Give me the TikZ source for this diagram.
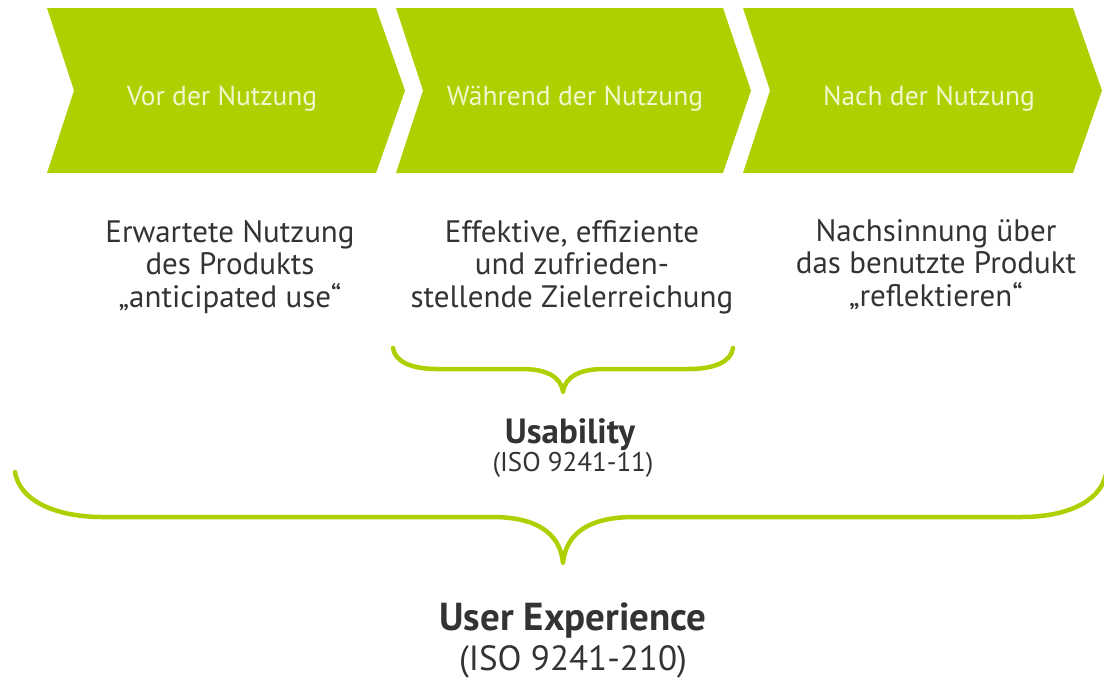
\documentclass[tikz,border=0pt]{standalone}
\usepackage{fontspec}
\setmainfont{PT Sans}
\begin{document}
\begin{tikzpicture}[x=1pt,y=-1pt,
  phase/.style={fill=limegreen,draw=none},
  phaselabel/.style={text=chevtext,font=\fontsize{27.5}{32}\selectfont,anchor=base,inner sep=0pt},
  desc/.style={text=darktext,font=\fontsize{31}{32.5}\selectfont,align=center,anchor=north,inner sep=0pt},
  brace/.style={draw=limegreen,line width=4.5pt,line cap=round,line join=round},
  title/.style={text=darktext,font=\bfseries\fontsize{35}{40}\selectfont,anchor=base,inner sep=0pt},
  norm/.style={text=darktext,font=\fontsize{27}{30}\selectfont,anchor=base,inner sep=0pt}]
\definecolor{limegreen}{HTML}{AFCF00}
\definecolor{chevtext}{HTML}{F2F7CF}
\definecolor{darktext}{HTML}{333333}
\useasboundingbox (0,0) rectangle (1104,678);

% phase chevrons
\path[phase] (47,8) -- (376,8) -- (405,90.5) -- (376,173) -- (47,173) -- (74,90.5) -- cycle;
\path[phase] (396,8) -- (723,8) -- (751,90.5) -- (723,173) -- (396,173) -- (423,90.5) -- cycle;
\path[phase] (743,8) -- (1073,8) -- (1102,90.5) -- (1073,173) -- (743,173) -- (770,90.5) -- cycle;

\node[phaselabel] (p1) at (222,105) {Vor der Nutzung};
\node[phaselabel] (p2) at (575,105) {Während der Nutzung};
\node[phaselabel] (p3) at (929,105) {Nach der Nutzung};

% descriptions
\node[desc] (d1) at (230,220) {Erwartete Nutzung\\des Produkts\\„anticipated use“};
\node[desc] (d2) at (572,220) {Effektive, effiziente\\und zufrieden-\\stellende Zielerreichung};
\node[desc] (d3) at (936,219) {Nachsinnung über\\das benutzte Produkt\\„reflektieren“};

% small brace
\draw[brace] (393,348) .. controls (395,362) and (412,369) .. (437,369)
  -- (522,369) .. controls (545,369) and (561,376) .. (563,392)
  .. controls (565,376) and (581,369) .. (604,369)
  -- (689,369) .. controls (714,369) and (731,362) .. (733,348);

\node[title] (ub) at (570,443) {Usability};
\node[norm] (ubn) at (573,471) {(ISO 9241-11)};

% large brace
\draw[brace] (15,472) .. controls (20,503) and (60,517) .. (102,517)
  -- (492,517) .. controls (535,517) and (560,532) .. (563,563)
  .. controls (566,532) and (591,517) .. (634,517)
  -- (1022,517) .. controls (1064,517) and (1100,503) .. (1106,474);

\node[title,font=\bfseries\fontsize{39}{44}\selectfont] (ux) at (573,630) {User Experience};
\node[norm,font=\fontsize{35}{40}\selectfont] (uxn) at (573,670) {(ISO 9241-210)};
\end{tikzpicture}
\end{document}
